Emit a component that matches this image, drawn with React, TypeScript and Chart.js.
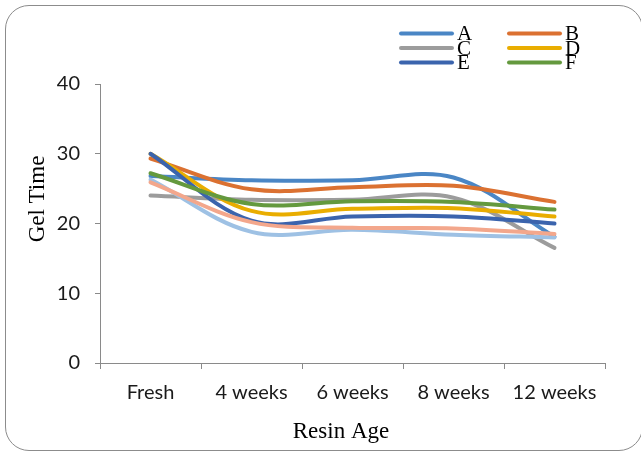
import { useEffect, useRef } from "react";
import { Chart, registerables } from "chart.js";

Chart.register(...registerables);

// Resin age categories on the x axis
const ageLabels = ["Fresh", "4 weeks", "6 weeks", "8 weeks", "12 weeks"];

// Gel time per resin, one array per series
const seriesA = [26.8, 26.2, 26.2, 26.6, 18.1];
const seriesB = [29.3, 24.9, 25.2, 25.4, 23.1];
const seriesC = [24.0, 23.4, 23.4, 23.7, 16.5];
const seriesD = [30.0, 21.8, 22.1, 22.2, 21.0];
const seriesE = [30.0, 20.4, 21.0, 21.0, 20.0];
const seriesF = [27.2, 22.8, 23.2, 23.1, 22.0];
const seriesG = [26.3, 18.8, 19.1, 18.4, 18.0];
const seriesH = [25.9, 20.2, 19.4, 19.3, 18.5];

const seriesNames = ["A", "B", "C", "D", "E", "F", "G", "H"];
const seriesValues = [seriesA, seriesB, seriesC, seriesD, seriesE, seriesF, seriesG, seriesH];
const seriesColors = [
  "#4a86c5",
  "#db7131",
  "#9c9c9c",
  "#e9ad00",
  "#3b64ad",
  "#64993e",
  "#9ec1e4",
  "#f3a78c",
];

// Only the first six series have legend entries
const legendEntries = 6;

const yMin = 0;
const yMax = 40;
const yStep = 10;

const yTitle = "Gel Time";
const xTitle = "Resin Age";

const serif = "'Liberation Serif', 'Times New Roman', serif";
const sans = "Lato, 'Open Sans', sans-serif";

// Draws the two-column legend and both axis titles
const decorations = {
  id: "decorations",
  afterDraw(chart: Chart) {
    const { ctx } = chart;
    ctx.save();
    ctx.fillStyle = "#000";
    ctx.textBaseline = "middle";
    ctx.textAlign = "left";
    ctx.font = `21px ${serif}`;
    ctx.lineCap = "round";
    ctx.lineWidth = 4;
    for (let i = 0; i < legendEntries; i++) {
      const col = i % 2;
      const row = Math.floor(i / 2);
      const x0 = 401 + col * 108;
      const y = 33.5 + row * 14.5;
      ctx.strokeStyle = seriesColors[i];
      ctx.beginPath();
      ctx.moveTo(x0, y);
      ctx.lineTo(x0 + 51, y);
      ctx.stroke();
      ctx.fillText(seriesNames[i], x0 + 56, y + 1);
    }

    ctx.font = `23px ${serif}`;
    ctx.textAlign = "center";
    ctx.fillText(xTitle, 341, 432);

    ctx.translate(38, 199);
    ctx.rotate(-Math.PI / 2);
    ctx.fillText(yTitle, 0, 0);
    ctx.restore();
  },
};

export default function App() {
  const canvasRef = useRef<HTMLCanvasElement | null>(null);

  useEffect(() => {
    const canvas = canvasRef.current;
    if (!canvas) return;

    const chart = new Chart(canvas, {
      type: "line",
      data: {
        labels: ageLabels,
        datasets: seriesValues.map((values, i) => ({
          label: seriesNames[i],
          data: values,
          borderColor: seriesColors[i],
          backgroundColor: seriesColors[i],
          borderWidth: 4,
          borderCapStyle: "round" as const,
          borderJoinStyle: "round" as const,
          pointRadius: 0,
          pointHoverRadius: 0,
          tension: 0.35,
          fill: false,
          order: seriesValues.length - i,
        })),
      },
      options: {
        responsive: false,
        animation: false,
        layout: { padding: { left: 0, right: 36, top: 84, bottom: 0 } },
        plugins: {
          legend: { display: false },
          tooltip: { enabled: false },
        },
        scales: {
          x: {
            offset: true,
            grid: {
              offset: true,
              drawOnChartArea: false,
              drawTicks: true,
              tickLength: 6,
              color: "#8a8a8a",
            },
            border: { display: true, color: "#8a8a8a", width: 1 },
            ticks: {
              font: { family: sans, size: 20 },
              color: "#1a1a1a",
              padding: 12,
              maxRotation: 0,
              autoSkip: false,
            },
            afterFit(scale: any) {
              scale.height = 89;
            },
          },
          y: {
            min: yMin,
            max: yMax,
            ticks: {
              stepSize: yStep,
              font: { family: sans, size: 20 },
              color: "#1a1a1a",
              padding: 15,
            },
            grid: {
              drawOnChartArea: false,
              drawTicks: true,
              tickLength: 5,
              color: "#8a8a8a",
            },
            border: { display: true, color: "#8a8a8a", width: 1 },
            afterFit(scale: any) {
              scale.width = 100;
            },
          },
        },
      },
      plugins: [decorations],
    });

    return () => chart.destroy();
  }, []);

  return (
    <div
      style={{
        position: "fixed",
        left: 0,
        top: 0,
        width: 641,
        height: 452,
        background: "#fff",
        overflow: "hidden",
      }}
    >
      <div
        style={{
          position: "absolute",
          left: 5,
          top: 5,
          width: 636,
          height: 444,
          border: "1px solid #8c8c8c",
          borderRadius: 24,
        }}
      />
      <canvas
        ref={canvasRef}
        width={641}
        height={452}
        style={{ position: "absolute", left: 0, top: 0 }}
      />
    </div>
  );
}
